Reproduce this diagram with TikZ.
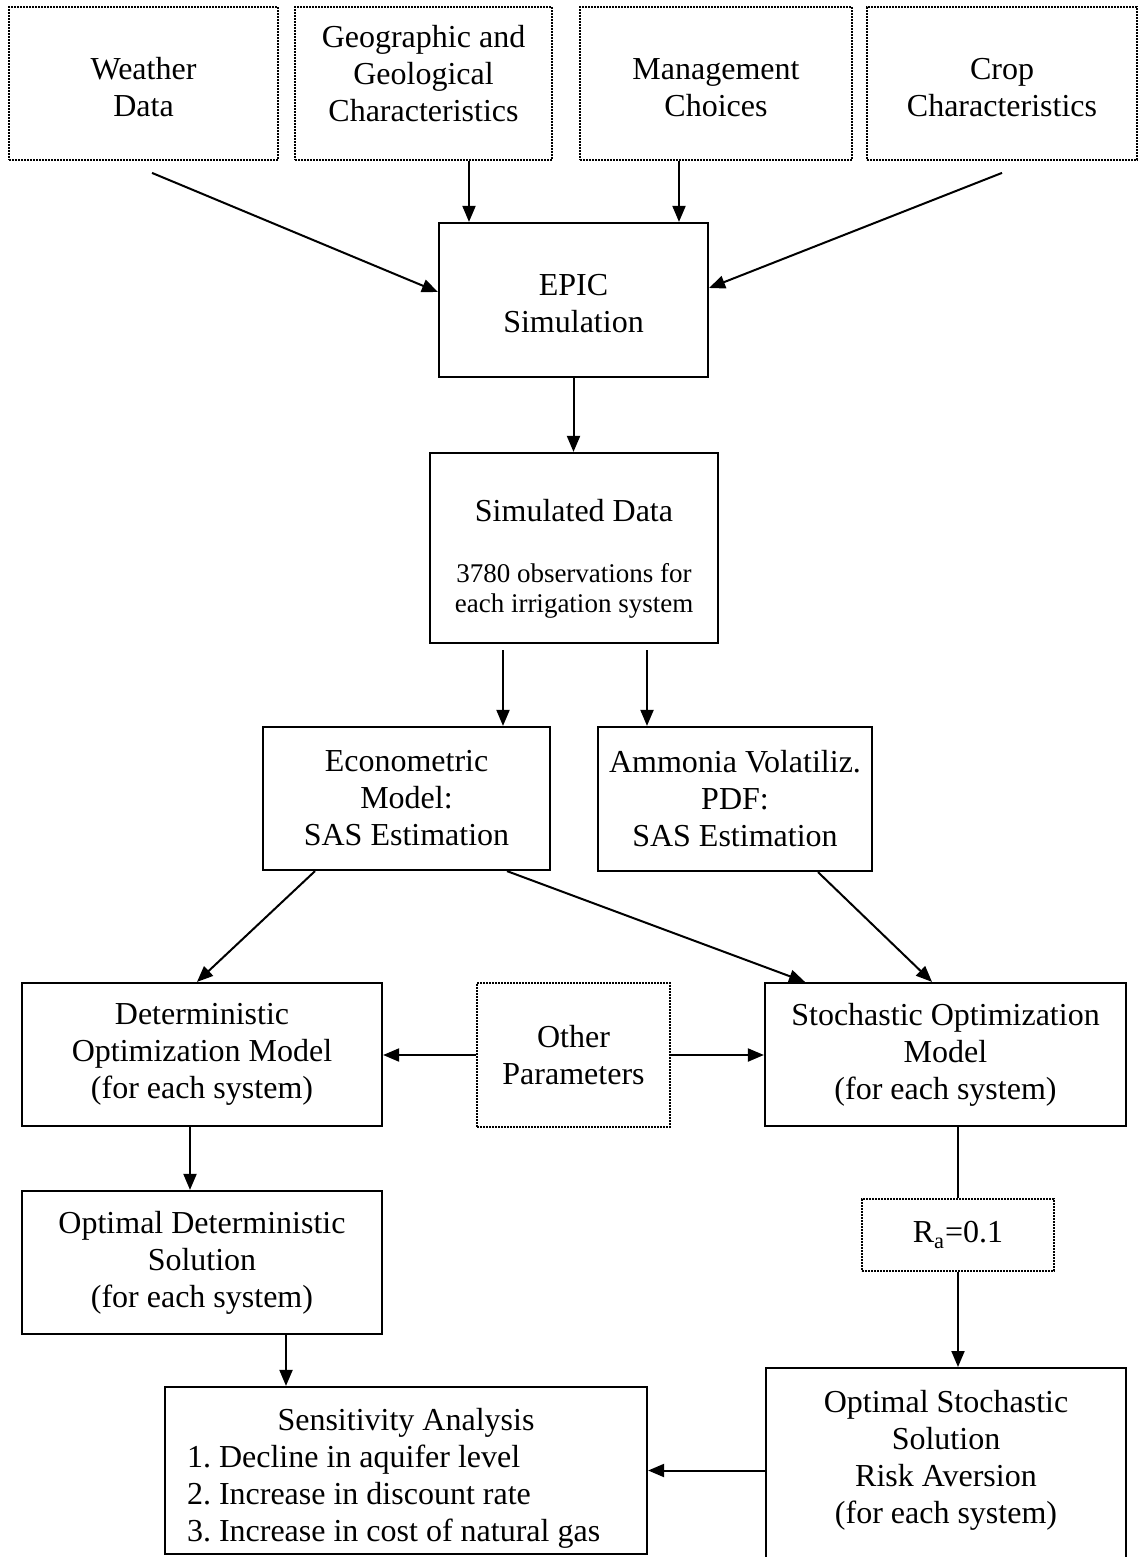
\documentclass[tikz,border=0pt]{standalone}
\usepackage{fontspec}
\setmainfont{Liberation Serif}
\usetikzlibrary{arrows.meta,calc}
\newcommand{\bigfont}{\fontsize{16}{18.5}\selectfont\frenchspacing}
\newcommand{\smallfont}{\fontsize{13.5}{15}\selectfont}
\tikzset{
  box/.style={draw,line width=1.1pt,align=center,inner sep=0pt},
  dotbox/.style={draw,line width=0.9pt,dash pattern=on 0.8pt off 0.7pt,align=center,inner sep=0pt},
  arr/.style={line width=1pt,-{Triangle[length=8pt,width=6.5pt]}}
}

\begin{document}
\begin{tikzpicture}[x=0.5pt,y=-0.5pt,font=\bigfont]
\useasboundingbox (0,0) rectangle (1139,1557);
\clip (0,0) rectangle (1139,1557);
% inputs
\node[dotbox,minimum width=134.5pt,minimum height=76.5pt,text height=33pt] (weather) at (143.5,83.5) {Weather\\Data};
\node[dotbox,minimum width=128.5pt,minimum height=76.5pt,text depth=10pt] (geo) at (423.5,83.5) {Geographic and\\Geological\\Characteristics};
\node[dotbox,minimum width=136pt,minimum height=76.5pt,text height=33pt] (mgmt) at (716,83.5) {Management\\Choices};
\node[dotbox,minimum width=135pt,minimum height=76.5pt,text height=33pt] (crop) at (1002,83.5) {Crop\\Characteristics};
% simulation
\node[box,minimum width=134.5pt,minimum height=77pt,text height=33pt] (epic) at (573.5,300) {EPIC\\Simulation};
\node[box,minimum width=144pt,minimum height=95pt,text height=67pt] (sim) at (574,548)
  {Simulated Data\\[12pt]{\smallfont 3780 observations for}\\[-3.5pt]{\smallfont each irrigation system}};
\node[box,minimum width=143.5pt,minimum height=71.5pt] (eco) at (406.5,798.5) {Econometric\\Model:\\SAS Estimation};
\node[box,minimum width=137pt,minimum height=72pt] (amm) at (735,799) {Ammonia Volatiliz.\\PDF:\\SAS Estimation};
% optimization
\node[box,minimum width=180pt,minimum height=71.5pt] (det) at (202,1054.5) {Deterministic\\Optimization Model\\(for each system)};
\node[dotbox,minimum width=96.5pt,minimum height=72pt] (other) at (573.5,1055) {Other\\Parameters};
\node[box,minimum width=180.5pt,minimum height=71.5pt] (stoch) at (945.5,1054.5) {Stochastic Optimization\\Model\\(for each system)};
\node[box,minimum width=180pt,minimum height=71.5pt] (optdet) at (202,1262.5) {Optimal Deterministic\\Solution\\(for each system)};
\node[dotbox,minimum width=96pt,minimum height=36pt] (ra) at (958,1235) {R\textsubscript{a}=0.1};
\node[box,anchor=north,minimum width=180pt,minimum height=106.5pt,text depth=18pt] (ostoch) at (946,1367)
  {Optimal Stochastic\\Solution\\Risk Aversion\\(for each system)};
\node[box,minimum width=241pt,minimum height=83.5pt,text height=21pt] (sens) at (406,1470.5)
  {\begin{tabular}[t]{@{}p{219pt}@{}}
   \multicolumn{1}{@{}c@{}}{Sensitivity Analysis}\\
   1. Decline in aquifer level\\
   2. Increase in discount rate\\
   3. Increase in cost of natural gas
   \end{tabular}};
% connectors
\draw[arr] ($(weather.south)+(8.5,12)$) -- ([yshift=4pt]epic.west);
\draw[arr] (469,0 |- geo.south) -- (469,0 |- epic.north);
\draw[arr] (679,0 |- mgmt.south) -- (679,0 |- epic.north);
\draw[arr] ($(crop.south)+(0,12)$) -- ([yshift=6pt]epic.east);
\draw[arr] (epic.south) -- (epic.south |- sim.north);
\draw[arr,shorten <=3pt] (503,0 |- sim.south) -- (503,0 |- eco.north);
\draw[arr,shorten <=3pt] (647,0 |- sim.south) -- (647,0 |- amm.north);
\draw[arr] ($(eco.south)+(-91.5,0)$) -- ([xshift=-2.5pt]det.north);
\draw[arr] ($(eco.south)+(100.5,0)$) -- ([xshift=-70.25pt]stoch.north);
\draw[arr] ($(amm.south)+(83,0)$) -- ([xshift=-6.75pt]stoch.north);
\draw[arr] (other.west) -- (other.west -| det.east);
\draw[arr] (other.east) -- (other.east -| stoch.west);
\draw[arr] ([xshift=-6pt]det.south) -- ([xshift=-6pt]det.south |- optdet.north);
\draw[arr] (286,0 |- optdet.south) -- (286,0 |- sens.north);
\draw[line width=1pt] (stoch.south -| ra.north) -- (ra.north);
\draw[arr] (ra.south) -- (ra.south |- ostoch.north);
\draw[arr] (sens.east -| ostoch.west) -- (sens.east);
\end{tikzpicture}
\end{document}
